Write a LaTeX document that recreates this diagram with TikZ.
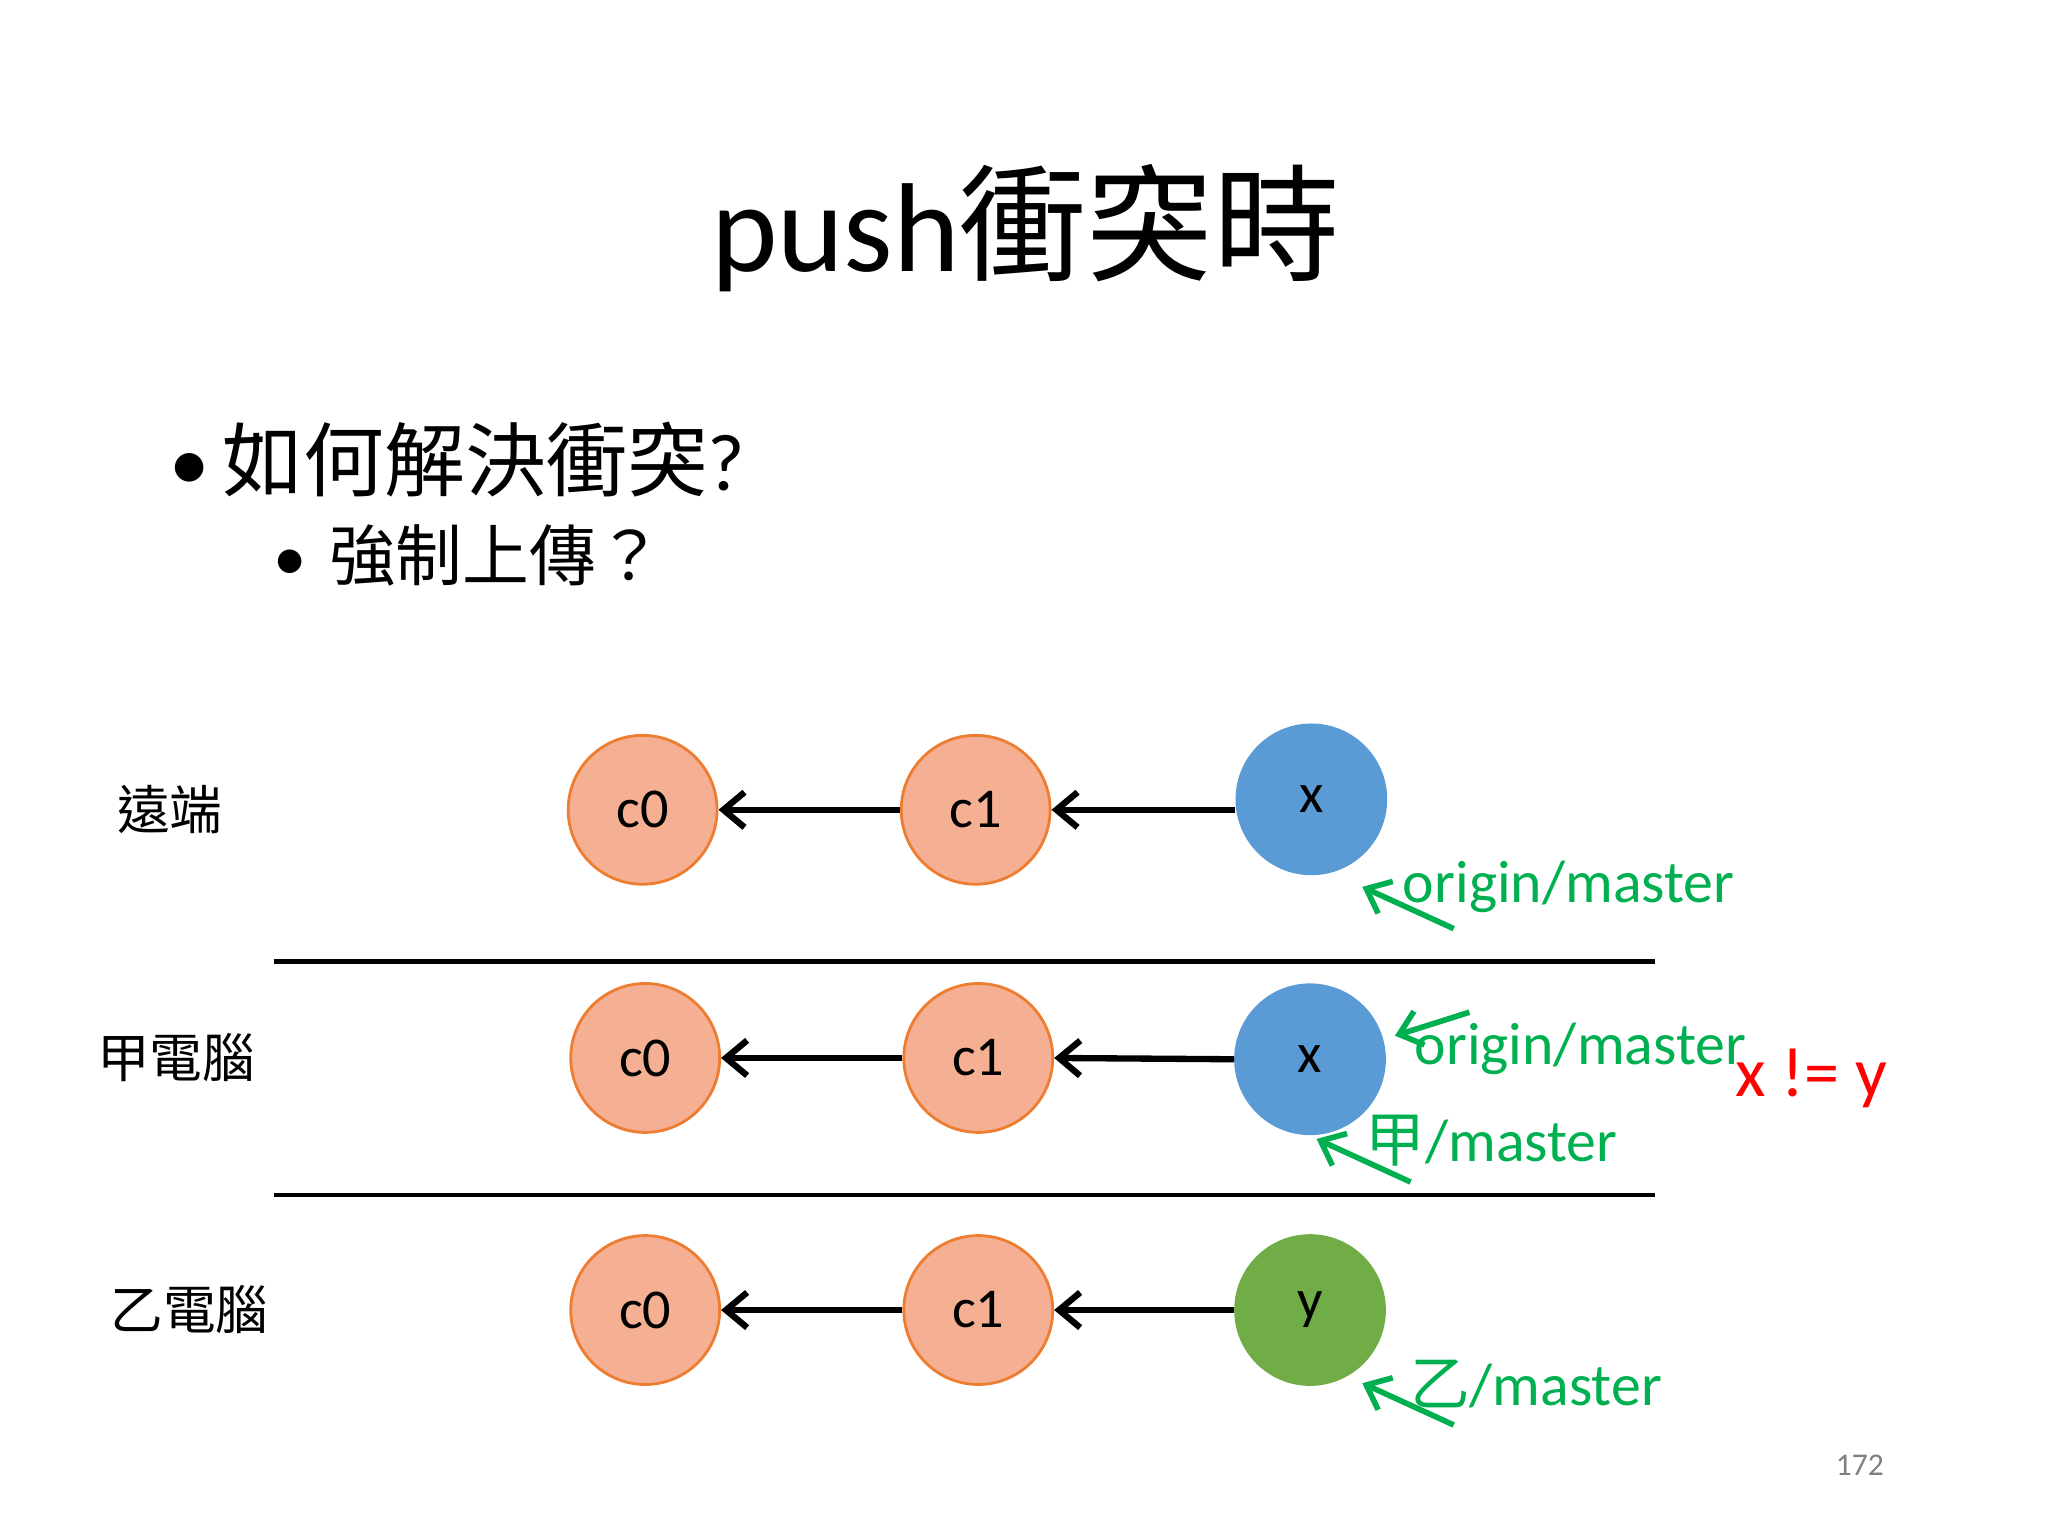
\documentclass[tikz,border=0pt]{standalone}
\usepackage{fontspec}
\setmainfont{Carlito}
\newfontfamily\cjk{Noto Sans CJK TC}
\usetikzlibrary{arrows.meta}
\definecolor{orf}{HTML}{F5B093}
\definecolor{ord}{HTML}{ED7D31}
\definecolor{bl}{HTML}{5B9BD5}
\definecolor{gr}{HTML}{70AD47}
\definecolor{gt}{HTML}{00B050}
\begin{document}
\begin{tikzpicture}[x=0.01306cm,y=-0.01306cm,
  oc/.style={circle,minimum size=114*0.01306cm,inner sep=0pt,fill=orf,draw=ord,line width=0.8pt,font=\fontsize{16}{16}\selectfont},
  bc/.style={oc,fill=bl,draw=bl},
  gc/.style={oc,fill=gr,draw=gr},
  ar/.style={line width=1.8pt,-{Straight Barb[length=6pt,width=10pt]}},
  ga/.style={gt,line width=1.6pt,-{Straight Barb[length=6pt,width=10pt]}},
  gl/.style={gt,font=\fontsize{17}{17}\selectfont,inner sep=0pt},
  rl/.style={font=\cjk\fontsize{15}{15}\selectfont}]
\useasboundingbox (0,0) rectangle (1568,1176);
\node (t) at (785,175) {\fontsize{36}{36}\selectfont push{\cjk 衝突時}};
\node[anchor=west] (b1) at (120,352) {\fontsize{23}{23}\selectfont •\,{\cjk 如何解決衝突}?};
\node[anchor=west] (b2) at (200,425) {\fontsize{19}{19}\selectfont •\,\,{\cjk 強制上傳？}};
\node[rl] (l1) at (130,620) {遠端};
\node[rl] (l2) at (135,810) {甲電腦};
\node[rl] (l3) at (145,1003) {乙電腦};
\node[oc] (a0) at (492,620) {c0};
\node[oc] (a1) at (747,620) {c1};
\node[bc] (a2) at (1004,612) {x};
\node[oc] (b0) at (494,810) {c0};
\node[oc] (bb1) at (749,810) {c1};
\node[bc] (bb2) at (1003,811) {x};
\node[oc] (c0) at (494,1003) {c0};
\node[oc] (c1) at (749,1003) {c1};
\node[gc] (c2) at (1003,1003) {y};
\draw[ar] (a1.west) -- (a0.east);
\draw[ar] (a2.west|-a1) -- (a1.east);
\draw[ar] (bb1.west) -- (b0.east);
\draw[ar] (bb2.west) -- (bb1.east);
\draw[ar] (c1.west) -- (c0.east);
\draw[ar] (c2.west) -- (c1.east);
\coordinate (h1a) at (210,736); \coordinate (h1b) at (1267,736);
\coordinate (h2a) at (210,915); \coordinate (h2b) at (1267,915);
\draw[line width=1.3pt] (h1a) -- (h1b);
\draw[line width=1.3pt] (h2a) -- (h2b);
\node[gl] (g1) at (1201,679) {origin/master};
\coordinate (s1) at (1113,711); \coordinate (e1) at (1043,679);
\draw[ga] (s1) -- (e1);
\node[gl] (g2) at (1210,803) {origin/master};
\coordinate (s2) at (1125,775); \coordinate (e2) at (1068,793);
\draw[ga] (s2) -- (e2);
\node[gl] (g3) at (1142,873) {{\cjk 甲}/master};
\coordinate (s3) at (1080,905); \coordinate (e3) at (1008,872);
\draw[ga] (s3) -- (e3);
\node[gl] (g4) at (1176,1060) {{\cjk 乙}/master};
\coordinate (s4) at (1113,1091); \coordinate (e4) at (1043,1059);
\draw[ga] (s4) -- (e4);
\node[red,font=\fontsize{20}{20}\selectfont] (ne) at (1387,826) {x != y};
\node[gray,font=\fontsize{9}{9}\selectfont] (pg) at (1424,1122) {172};
\end{tikzpicture}
\end{document}
